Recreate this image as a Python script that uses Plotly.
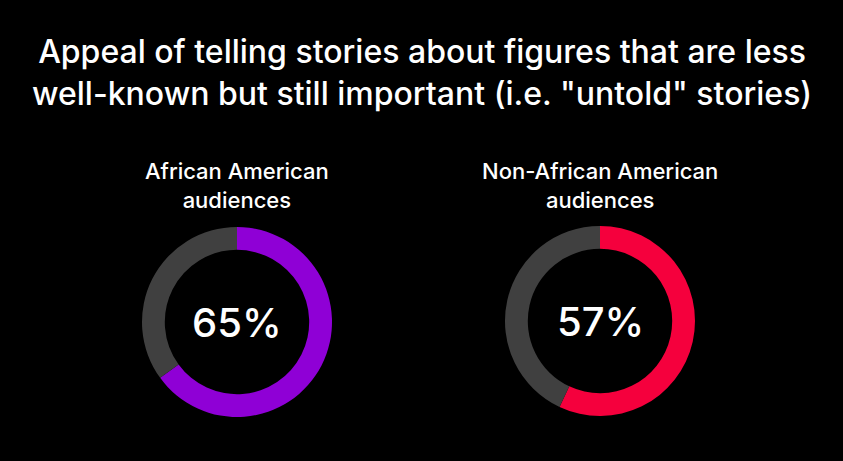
import plotly.graph_objects as go

# values
groups = ["African American<br>audiences", "Non-African American<br>audiences"]
appeal = [65, 57]
bar_colors = ["#8f00d6", "#f5003d"]
rest_color = "#404040"
title_text = ("Appeal of telling stories about figures that are less<br>"
              "well-known but still important (i.e. \"untold\" stories)")

W, H = 843, 461
centers = [(237, 322), (600, 321)]
radius = 95
font = "Inter"

fig = go.Figure()

for i in range(len(groups)):
    cx, cy = centers[i]
    fig.add_trace(go.Pie(
        values=[appeal[i], 100 - appeal[i]],
        labels=["Appealing", "Other"],
        marker=dict(colors=[bar_colors[i], rest_color], line=dict(width=0)),
        hole=0.76,
        sort=False,
        direction="clockwise",
        rotation=0,
        textinfo="none",
        hoverinfo="skip",
        showlegend=False,
        domain=dict(x=[(cx - radius) / W, (cx + radius) / W],
                    y=[(H - cy - radius) / H, (H - cy + radius) / H]),
    ))
    # big number in the hole
    fig.add_annotation(x=cx / W, y=(H - cy) / H, xref="paper", yref="paper",
                       text=str(appeal[i]) + "%", showarrow=False,
                       font=dict(family=font, size=40, weight=500, color="white"),
                       xanchor="center", yanchor="middle")
    # group label above the donut
    fig.add_annotation(x=cx / W, y=(H - 185) / H, xref="paper", yref="paper",
                       text=groups[i], showarrow=False,
                       font=dict(family=font, size=22, weight=500, color="white"),
                       xanchor="center", yanchor="middle")

fig.add_annotation(x=0.5, y=(H - 72) / H, xref="paper", yref="paper",
                   text=title_text, showarrow=False,
                   font=dict(family=font, size=32, weight=500, color="white"),
                   xanchor="center", yanchor="middle")

fig.update_layout(width=W, height=H,
                  margin=dict(l=0, r=0, t=0, b=0),
                  paper_bgcolor="black",
                  plot_bgcolor="black")

fig.write_html("out.html", config={"displayModeBar": False},
               post_script="document.body.style.margin='0';")
